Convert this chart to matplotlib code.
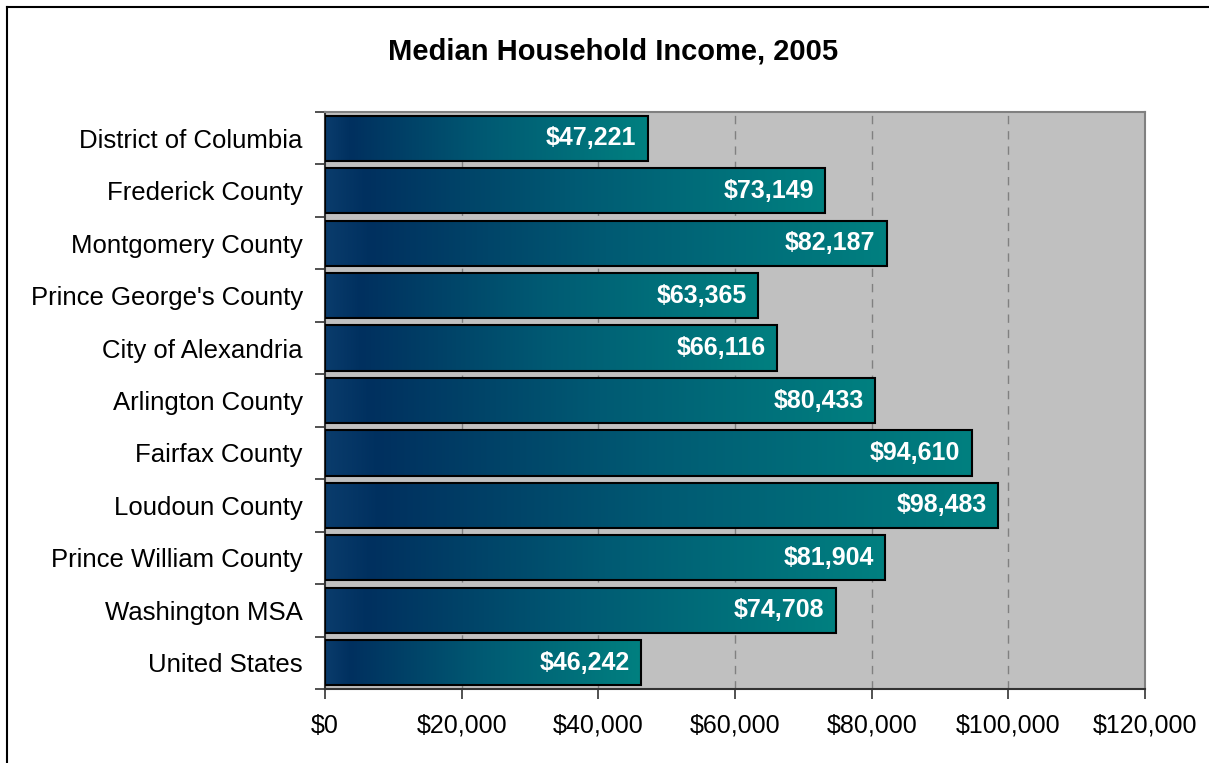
import matplotlib.pyplot as plt
import numpy as np
from matplotlib.colors import LinearSegmentedColormap
from matplotlib.lines import Line2D
from matplotlib.patches import Rectangle
from matplotlib.ticker import FuncFormatter

plt.rcParams["font.family"] = ["Liberation Sans", "DejaVu Sans"]

categories = [
    "District of Columbia",
    "Frederick County",
    "Montgomery County",
    "Prince George's County",
    "City of Alexandria",
    "Arlington County",
    "Fairfax County",
    "Loudoun County",
    "Prince William County",
    "Washington MSA",
    "United States",
]
incomes = [47221, 73149, 82187, 63365, 66116, 80433, 94610, 98483, 81904, 74708, 46242]
x_ticks = [0, 20000, 40000, 60000, 80000, 100000, 120000]

fig = plt.figure(figsize=(12.09, 7.63), dpi=100)
ax = fig.add_axes([325 / 1209, 1 - 689 / 763, 820 / 1209, 577 / 763])
ax.set_facecolor("#c0c0c0")

# border of the chart area (only top and left are inside the crop)
fig.add_artist(Line2D([7 / 1209, 1.0], [1 - 7 / 763, 1 - 7 / 763], color="black", lw=1.5))
fig.add_artist(Line2D([7 / 1209, 7 / 1209], [1 - 7 / 763, 0.0], color="black", lw=1.5))

# per-bar gradient: slightly lighter at the very left, darkest navy just after, teal at the end
cmap = LinearSegmentedColormap.from_list(
    "navy_teal",
    [(0.0, "#0a3c6c"), (0.08, "#00305f"), (0.5, "#005a73"), (1.0, "#008080")],
)
grad = np.linspace(0, 1, 256).reshape(1, -1)

n = len(categories)
bar_h = 0.86

for i, (name, val) in enumerate(zip(categories, incomes)):
    y0 = i - bar_h / 2
    ax.imshow(grad, cmap=cmap, aspect="auto", extent=(0, val, i + bar_h / 2, y0),
              zorder=2, interpolation="bilinear")
    ax.add_patch(Rectangle((0, y0), val, bar_h, fill=False, edgecolor="black", lw=1.5, zorder=3))
    ax.annotate(f"${val:,}", xy=(val, i), xytext=(-8, 0), textcoords="offset points",
                ha="right", va="center", color="white", fontsize=18, fontweight="bold", zorder=4)

ax.set_xlim(0, 120000)
ax.set_ylim(n - 0.5, -0.5)

ax.set_xticks(x_ticks)
ax.xaxis.set_major_formatter(FuncFormatter(lambda v, p: f"${int(v):,}"))
ax.set_yticks(range(n))
ax.set_yticklabels(categories)
ax.set_yticks(np.arange(-0.5, n, 1), minor=True)
ax.tick_params(axis="y", which="major", length=0, pad=16, labelsize=18.5)
ax.tick_params(axis="y", which="minor", length=7, width=1.2, color="#333333")
ax.tick_params(axis="x", length=7, width=1.2, color="#333333", pad=11, labelsize=18)

for xv in x_ticks[1:-1]:
    ax.axvline(xv, color="#808080", lw=1, ls=(0, (6, 5)), zorder=1)

for side in ["top", "right"]:
    ax.spines[side].set_color("#808080")
    ax.spines[side].set_linewidth(1.5)
for side in ["left", "bottom"]:
    ax.spines[side].set_color("#333333")
    ax.spines[side].set_linewidth(1.5)

fig.text(613 / 1209, 1 - 52 / 763, "Median Household Income, 2005", ha="center", va="center",
         fontsize=21, fontweight="bold")

fig.savefig("out.png", dpi=100)
